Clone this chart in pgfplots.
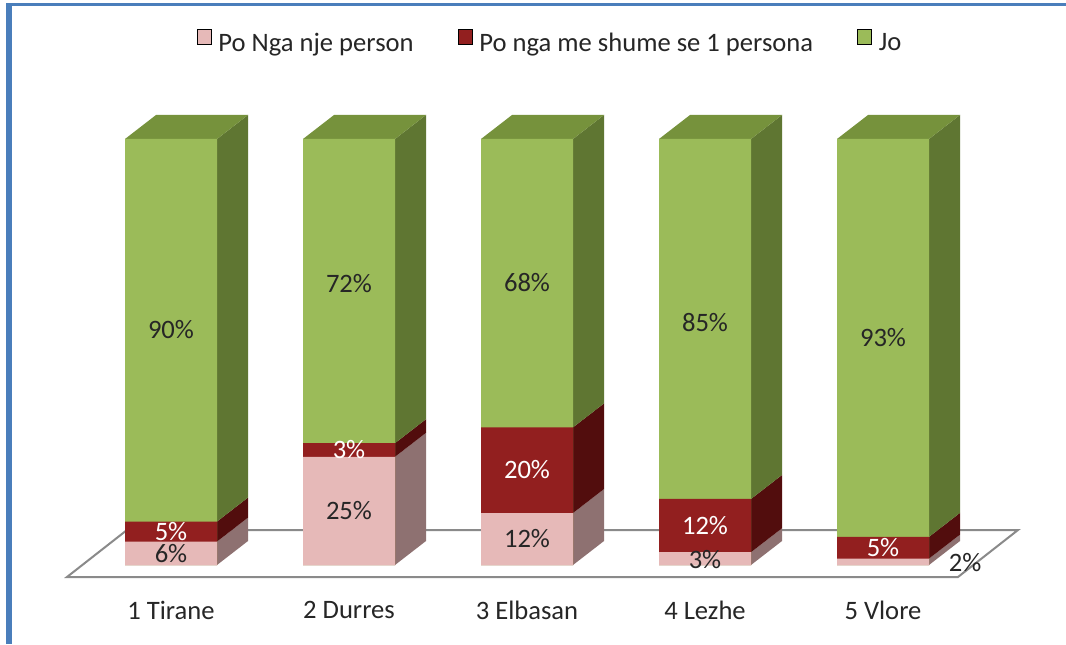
\documentclass[border=0pt]{standalone}
\usepackage{fontspec}
\setmainfont{Carlito}
\usepackage{pgfplots}
\pgfplotsset{compat=1.18}
\usepackage{pgfplotstable}

\definecolor{pinkF}{HTML}{E6B9B8}
\definecolor{pinkS}{HTML}{8E7171}
\definecolor{redF}{HTML}{921F1F}
\definecolor{redS}{HTML}{520D0D}
\definecolor{greenF}{HTML}{9BBB59}
\definecolor{greenS}{HTML}{5F7632}
\definecolor{greenT}{HTML}{76923C}
\definecolor{frameblue}{HTML}{4A7EBB}
\definecolor{floorgray}{HTML}{8A8A8A}
\definecolor{txt}{HTML}{262626}

% segment values (percent of each region)
\pgfplotstableread{
x pink red green
0 5.5 4.7 89.8
1 25.4 3.2 71.4
2 12.2 20.1 67.7
3 3.0 12.5 84.5
4 1.5 5.1 93.4
}\bars

\pgfplotstableread[col sep=comma]{
x,y,label
0,2.75,6\%
0,55.2,90\%
1,12.7,25\%
1,66.0,72\%
2,6.1,12\%
2,66.2,68\%
3,1.3,3\%
3,57.0,85\%
4.461,0.47,2\%
4,53.3,93\%
}\darklabels

\pgfplotstableread[col sep=comma]{
x,y,label
0,7.85,5\%
1,27.0,3\%
2,22.3,20\%
3,9.25,12\%
4,4.05,5\%
}\whitelabels

\pgfplotstableread[col sep=comma]{
x,y,label
0,-10.56,1 Tirane
1,-10.56,2 Durres
2,-10.56,3 Elbasan
3,-10.56,4 Lezhe
4,-10.56,5 Vlore
}\catlabels

\newcommand\side[4]{%
 \pgfmathsetmacro\ra{#1+0.2584}%
 \pgfmathsetmacro\rb{#1+0.4326}%
 \pgfmathsetmacro\ya{#2+5.634}%
 \pgfmathsetmacro\yb{#3+5.634}%
 \addplot[fill=#4, draw=none, forget plot] coordinates {(\ra,#2) (\rb,\ya) (\rb,\yb) (\ra,#3)} -- cycle;}
\newcommand\topface[1]{%
 \pgfmathsetmacro\la{#1-0.2584}%
 \pgfmathsetmacro\ra{#1+0.2584}%
 \pgfmathsetmacro\rb{#1+0.4326}%
 \pgfmathsetmacro\lb{#1-0.0842}%
 \addplot[fill=greenT, draw=none, forget plot] coordinates {(\la,100) (\ra,100) (\rb,105.634) (\lb,105.634)} -- cycle;}

\begin{document}
\begin{tikzpicture}
\begin{axis}[
  x=89pt, y=2.13pt,
  xmin=-0.96067, xmax=5.02809, ymin=-18.545, ymax=132.629,
  hide axis, clip=false,
  legend style={at={(axis cs:2.135,122.4)}, anchor=center, draw=none, fill=none,
    legend columns=3, font=\fontsize{13.3}{15}\selectfont, text=txt, inner sep=0pt,
    /tikz/every odd column/.append style={column sep=1.5pt},
    /tikz/every even column/.append style={column sep=20pt}},
  legend image code/.code={\fill[#1] (0pt,0pt) rectangle (7pt,7.5pt);},
  lbl/.style={mark=none, draw=none, forget plot, nodes near coords, point meta=explicit symbolic,
    nodes near coords style={anchor=center, font=\fontsize{13.3}{15}\selectfont, text=#1}},
]
\fill[white] (rel axis cs:0,0) rectangle (rel axis cs:1,1);
\fill[frameblue] (rel axis cs:0.005629,0) rectangle (rel axis cs:0.011257,0.995342);
\fill[frameblue] (rel axis cs:0.005629,0.990683) rectangle (rel axis cs:1,0.995342);

\addlegendimage{fill=pinkF}\addlegendentry{Po Nga nje person}
\addlegendimage{fill=redF}\addlegendentry{Po nga me shume se 1 persona}
\addlegendimage{fill=greenF}\addlegendentry{Jo}

% floor
\addplot[draw=floorgray, line width=1pt, forget plot] coordinates {(-0.5843,-2.817) (4.4213,-2.817) (4.7584,8.216) (-0.2472,8.216)} -- cycle;

% side and top faces
\side{0}{0}{5.5}{pinkS}\side{0}{5.5}{10.2}{redS}\side{0}{10.2}{100}{greenS}\topface{0}
\side{1}{0}{25.4}{pinkS}\side{1}{25.4}{28.6}{redS}\side{1}{28.6}{100}{greenS}\topface{1}
\side{2}{0}{12.2}{pinkS}\side{2}{12.2}{32.3}{redS}\side{2}{32.3}{100}{greenS}\topface{2}
\side{3}{0}{3.0}{pinkS}\side{3}{3.0}{15.5}{redS}\side{3}{15.5}{100}{greenS}\topface{3}
\side{4}{0}{1.5}{pinkS}\side{4}{1.5}{6.6}{redS}\side{4}{6.6}{100}{greenS}\topface{4}

% front faces
\addplot[ybar, bar width=46pt, bar shift=0pt, fill=greenF, draw=none, forget plot]
  table[x=x, y expr=\thisrow{pink}+\thisrow{red}+\thisrow{green}] {\bars};
\addplot[ybar, bar width=46pt, bar shift=0pt, fill=redF, draw=none, forget plot]
  table[x=x, y expr=\thisrow{pink}+\thisrow{red}] {\bars};
\addplot[ybar, bar width=46pt, bar shift=0pt, fill=pinkF, draw=none, forget plot]
  table[x=x, y=pink] {\bars};

% labels
\addplot[lbl=txt] table[x=x, y=y, meta=label] {\darklabels};
\addplot[lbl=white] table[x=x, y=y, meta=label] {\whitelabels};
\addplot[lbl=txt] table[x=x, y=y, meta=label] {\catlabels};
\end{axis}
\end{tikzpicture}
\end{document}
